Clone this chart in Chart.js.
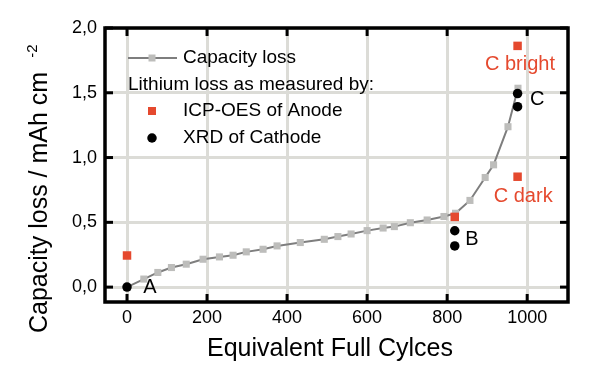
<!DOCTYPE html>
<html>
<head>
<meta charset="utf-8">
<script src="https://cdn.jsdelivr.net/npm/chart.js@4.4.0/dist/chart.umd.min.js"></script>
<style>
  html, body { margin: 0; padding: 0; background: #fff; }
  #chart { display: block; }
</style>
</head>
<body>
<canvas id="chart" width="600" height="378"></canvas>
<script>
// Capacity loss curve (gray squares + line)
const capacityCycles = [0, 42, 77, 111, 148, 190, 231, 265, 298, 340, 375, 433, 493, 527, 560, 600, 640, 668, 708, 750, 792, 821, 857, 895, 916, 952, 977];
const capacityLoss = [0, 0.062, 0.113, 0.151, 0.177, 0.215, 0.233, 0.246, 0.272, 0.292, 0.318, 0.344, 0.369, 0.390, 0.410, 0.436, 0.456, 0.467, 0.497, 0.518, 0.545, 0.570, 0.669, 0.846, 0.944, 1.238, 1.535];

// Lithium loss, ICP-OES of anode (red squares)
const icpCycles = [0, 819, 976, 976];
const icpLoss = [0.244, 0.542, 1.862, 0.852];

// Lithium loss, XRD of cathode (black circles)
const xrdCycles = [0, 819, 819, 976, 976];
const xrdLoss = [0, 0.435, 0.318, 1.494, 1.393];

// Point annotations
const noteTexts = ['A', 'B', 'C', 'C bright', 'C dark'];
const noteCycles = [57, 862, 1025, 982, 990];
const noteValues = [0.0, 0.37, 1.446, 1.715, 0.70];
const noteRed = [false, false, false, true, true];

// Axis ticks
const xTicks = [0, 200, 400, 600, 800, 1000];
const yTicks = [0, 0.5, 1.0, 1.5, 2.0];

const RED = '#e5492e';
const GRAY_SQ = '#bdbdbb';
const GRAY_LINE = '#7e7e7e';
const FONT = "'Liberation Sans', Arial, sans-serif";

function toPoints(xs, ys) {
    return xs.map((v, i) => ({ x: v, y: ys[i] }));
}

const decorPlugin = {
    id: 'decor',
    beforeDatasetsDraw(chart) {
        const { ctx, chartArea: a, scales: { x, y } } = chart;
        ctx.save();
        ctx.strokeStyle = '#000';
        ctx.lineWidth = 3;
        const seg = (x1, y1, x2, y2) => {
            ctx.beginPath();
            ctx.moveTo(x1, y1);
            ctx.lineTo(x2, y2);
            ctx.stroke();
        };
        // inward ticks on all four sides
        xTicks.forEach(v => {
            const px = x.getPixelForValue(v);
            seg(px, a.bottom, px, a.bottom - 8);
            seg(px, a.top, px, a.top + 8);
        });
        yTicks.forEach(v => {
            const py = y.getPixelForValue(v);
            seg(a.left, py, a.left + 8, py);
            seg(a.right, py, a.right - 8, py);
        });
        ctx.lineWidth = 3.5;
        ctx.strokeRect(a.left, a.top, a.right - a.left, a.bottom - a.top);
        ctx.restore();
    },
    afterDatasetsDraw(chart) {
        const { ctx, chartArea: a, scales: { x, y } } = chart;
        ctx.save();
        ctx.font = '20px ' + FONT;
        ctx.textAlign = 'center';
        ctx.textBaseline = 'middle';
        noteTexts.forEach((t, i) => {
            ctx.fillStyle = noteRed[i] ? RED : '#000';
            ctx.fillText(t, x.getPixelForValue(noteCycles[i]), y.getPixelForValue(noteValues[i]));
        });

        // legend
        const lx = a.left + 23, ly = a.top + 30;
        ctx.font = '19px ' + FONT;
        ctx.textAlign = 'left';
        ctx.fillStyle = '#000';
        ctx.strokeStyle = GRAY_LINE;
        ctx.lineWidth = 2;
        ctx.beginPath();
        ctx.moveTo(lx, ly);
        ctx.lineTo(lx + 49, ly);
        ctx.stroke();
        ctx.fillStyle = GRAY_SQ;
        ctx.fillRect(lx + 24 - 3.5, ly - 3.5, 7, 7);
        ctx.fillStyle = '#000';
        ctx.fillText('Capacity loss', lx + 55, ly);
        ctx.fillText('Lithium loss as measured by:', lx, ly + 27);
        ctx.fillStyle = RED;
        ctx.fillRect(lx + 24 - 4, ly + 53 - 4, 8, 8);
        ctx.fillStyle = '#000';
        ctx.fillText('ICP-OES of Anode', lx + 55, ly + 53);
        ctx.beginPath();
        ctx.arc(lx + 24, ly + 80, 4.75, 0, Math.PI * 2);
        ctx.fill();
        ctx.fillText('XRD of Cathode', lx + 55, ly + 80);
        ctx.restore();
    },
    afterDraw(chart) {
        const { ctx } = chart;
        ctx.save();
        ctx.fillStyle = '#000';
        ctx.textBaseline = 'middle';
        ctx.font = '25px ' + FONT;
        // x axis title
        ctx.textAlign = 'center';
        ctx.fillText('Equivalent Full Cylces', 330, 349);
        // y axis title with superscript
        ctx.translate(40, 333);
        ctx.rotate(-Math.PI / 2);
        ctx.textAlign = 'left';
        const main = 'Capacity loss / mAh cm';
        ctx.fillText(main, 0, 0);
        const w = ctx.measureText(main).width;
        ctx.font = '15px ' + FONT;
        ctx.fillText('-2', w + 14, -7);
        ctx.restore();
    }
};

new Chart(document.getElementById('chart'), {
    type: 'scatter',
    data: {
        datasets: [{
            label: 'Capacity loss',
            data: toPoints(capacityCycles, capacityLoss),
            showLine: true,
            borderColor: GRAY_LINE,
            borderWidth: 2,
            pointStyle: 'rect',
            pointRadius: 5,
            pointBackgroundColor: GRAY_SQ,
            pointBorderWidth: 0,
            order: 3
        }, {
            label: 'ICP-OES of Anode',
            data: toPoints(icpCycles, icpLoss),
            pointStyle: 'rect',
            pointRadius: 6,
            pointBackgroundColor: RED,
            pointBorderWidth: 0,
            order: 2
        }, {
            label: 'XRD of Cathode',
            data: toPoints(xrdCycles, xrdLoss),
            pointStyle: 'circle',
            pointRadius: 4.75,
            pointBackgroundColor: '#000',
            pointBorderWidth: 0,
            order: 1
        }]
    },
    options: {
        responsive: false,
        animation: false,
        layout: { padding: { top: 28, right: 32, left: 0, bottom: 0 } },
        plugins: {
            legend: { display: false },
            tooltip: { enabled: false }
        },
        scales: {
            x: {
                type: 'linear',
                min: -55,
                max: 1102,
                afterBuildTicks: s => { s.ticks = xTicks.map(v => ({ value: v })); },
                afterFit: s => { s.height = 76; },
                border: { display: false },
                grid: { color: '#dcdcd7', lineWidth: 3, drawTicks: false },
                ticks: {
                    color: '#000',
                    padding: 5,
                    font: { size: 18, family: FONT },
                    maxRotation: 0,
                    callback: v => String(v)
                }
            },
            y: {
                type: 'linear',
                min: -0.115,
                max: 2.0,
                afterBuildTicks: s => { s.ticks = yTicks.map(v => ({ value: v })); },
                afterFit: s => { s.width = 105; },
                border: { display: false },
                grid: { color: '#dcdcd7', lineWidth: 3, drawTicks: false },
                ticks: {
                    color: '#000',
                    padding: 8,
                    font: { size: 18, family: FONT },
                    callback: v => v.toFixed(1).replace('.', ',')
                }
            }
        }
    },
    plugins: [decorPlugin]
});
</script>
</body>
</html>
